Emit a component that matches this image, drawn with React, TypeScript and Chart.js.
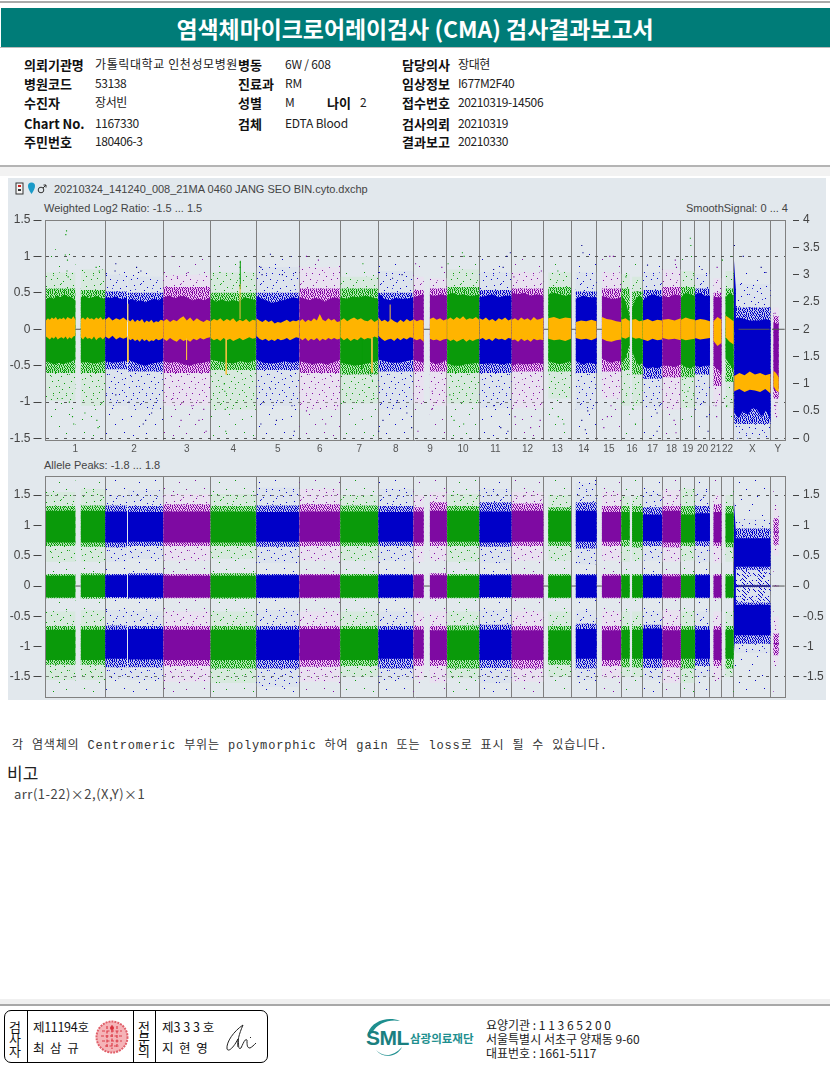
import React, { useEffect, useRef } from "react";
import { Chart, registerables } from "chart.js";

Chart.register(...registerables);

// ---- chromosome layout (Mb) ----
const chromNames = ["1","2","3","4","5","6","7","8","9","10","11","12","13","14","15","16","17","18","19","20","21","22","X","Y"];
const chromLengths = [249.25,243.2,198,191.2,180.9,171.1,159.1,146.4,141.2,135.5,135,133.9,115.2,107.3,102.5,90.4,81.2,78.1,59.1,63,48.1,51.3,155.3,59.4];
const chromHue = ["g","b","p","g","b","p","g","b","p","g","b","p","g","b","p","g","b","p","g","b","p","g","b","p"];

// ---- covered stretches of each chromosome (Mb from chromosome start) ----
const segChrom = [0,0,1,1,2,3,4,5,6,7,8,8,9,10,11,12,13,14,15,15,16,17,18,19,20,21,22,23];
const segStart = [2,148,1,96,1,1,1,1,1,1,1,70,1,1,1,20,20,22,1,46,1,1,1,1,15,17,2,11];
const segEnd = [125,249,92,243,197,190,180,170,158,146,44,141,135,135,133,115,107,102,36,90,81,78,59,63,48,51,154,33];

// ---- Weighted Log2 Ratio: readings along each stretch ----
const cloudTop = [
  [.41,.44,.42,.46,.44,.48,.45,.44,.40],[.44,.46,.43,.44,.46,.43,.42],[.44,.43,.45,.41,.44],[.40,.42,.38,.40,.37,.40,.42,.40,.44],
  [.44,.46,.43,.46,.44,.40,.42,.40,.44],[.42,.38,.41,.38,.40,.38,.44,.42,.40],[.46,.42,.39,.36,.38,.40,.42,.44,.42],[.44,.42,.40,.43,.42,.38,.42,.44,.42],
  [.44,.42,.45,.44,.46,.44,.42],[.50,.42,.40,.43,.42,.42,.44],[.44,.46,.48],[.47,.46,.48,.46],
  [.47,.50,.47,.48,.46,.46,.48],[.44,.46,.48,.44,.46,.46],[.50,.48,.50,.46,.48,.46],[.48,.50,.48,.46,.48],
  [.42,.46,.44,.44],[.46,.44,.42,.42,.44],[.48,.38,.18],[.30,.42,.46,.42],
  [.40,.45,.48,.46,.44],[.46,.44,.48,.46],[.44,.50,.48,.46],[.48,.50,.46,.46],
  [.45,.44,.44],[.44,.50,.46],[.14,.16,.14,.12,.12,.12,.14,.12],[.10,.08,.08],
];
const cloudBottom = [
  [-.44,-.46,-.48,-.46,-.48,-.46,-.45,-.41],[-.46,-.45,-.47,-.46,-.44],[-.44,-.46,-.45,-.43],[-.42,-.45,-.48,-.50,-.47,-.46,-.44],
  [-.44,-.46,-.45,-.48,-.50,-.47,-.46,-.44],[-.42,-.44,-.46,-.47,-.44,-.46,-.42],[-.42,-.46,-.47,-.46,-.44,-.46,-.44],[-.44,-.46,-.48,-.46,-.48,-.46,-.42],
  [-.46,-.48,-.50,-.48,-.46,-.44],[-.42,-.44,-.46,-.46,-.44,-.42],[-.42,-.44,-.46],[-.44,-.48,-.46,-.42],
  [-.47,-.50,-.50,-.48,-.47,-.46],[-.48,-.47,-.47,-.48,-.46],[-.50,-.47,-.48,-.48,-.46,-.48],[-.44,-.46,-.48,-.46,-.44],
  [-.44,-.48,-.46,-.48],[-.40,-.44,-.46,-.44,-.44],[-.46,-.40,-.20],[-.30,-.44,-.50,-.46],
  [-.50,-.54,-.52,-.54,-.50],[-.50,-.50,-.52,-.48],[-.48,-.52,-.54,-.50],[-.50,-.52,-.50,-.50],
  [-.50,-.55,-.60],[-.40,-.48,-.56],[-1.15,-1.22,-1.12,-1.18,-1.08,-1.1,-1.2,-1.12,-1.25],[-.82,-.85,-.80],
];
const smoothTop = [
  [.12,.15,.13,.16,.14,.17,.13,.15,.14,.16,.13,.17,.15,.14,.18,.13],[.14,.16,.13,.17,.14,.15,.13,.16,.14,.17,.13,.15],[.13,.17,.12,.15,.13,.16,.12],[.13,.11,.14,.10,.13,.11,.14,.09,.12,.10,.13,.09,.11,.10,.13,.12],
  [.11,.14,.10,.13,.11,.15,.18,.12,.16,.11,.15,.12,.10,.13,.11],[.11,.14,.12,.15,.11,.14,.12,.15,.10,.13,.11,.14,.10,.13,.12],[.15,.12,.10,.13,.10,.12,.08,.10,.09,.11,.13,.10,.12,.11,.13],[.11,.14,.10,.13,.11,.15,.12,.21,.13,.11,.15,.12,.14,.10,.11],
  [.12,.15,.11,.14,.16,.13,.15,.12,.11,.14,.10,.13],[.16,.11,.13,.10,.14,.11,.09,.13,.10,.14,.11,.13],[.14,.11,.13,.12],[.14,.16,.13,.15,.12,.14],
  [.13,.16,.13,.17,.14,.18,.13,.15,.14,.17,.13],[.15,.13,.16,.12,.14,.11,.15,.13,.16,.12,.14],[.13,.15,.12,.16,.13,.15,.12,.17,.13,.14,.16],[.15,.17,.14,.16,.15],
  [.10,.12,.11,.13,.11],[.17,.14,.13,.11,.10],[.13,.15,.11],[.13,.14,.11,.12],
  [.12,.14,.11,.13,.12],[.13,.14,.12,.15],[.13,.16,.14,.13],[.12,.14,.13,.11],
  [.11,.17,.13],[.19,.15,.11],[-.64,-.60,-.63,-.58,-.62,-.60,-.63,-.61],[-.57,-.60,-.66],
];
const smoothBottom = [
  [-.10,-.12,-.14,-.11,-.13,-.10,-.14,-.12,-.11,-.13,-.10,-.14,-.11,-.13,-.10,-.09],[-.11,-.14,-.10,-.13,-.12,-.14,-.10,-.15,-.12,-.11,-.14,-.11],[-.10,-.13,-.09,-.14,-.11,-.13,-.11],[-.12,-.15,-.13,-.16,-.14,-.17,-.13,-.16,-.14,-.17,-.15,-.16,-.13,-.15,-.14,-.12],
  [-.13,-.16,-.12,-.15,-.17,-.13,-.16,-.14,-.17,-.13,-.15,-.12,-.14,-.12,-.11],[-.12,-.15,-.13,-.16,-.12,-.15,-.13,-.16,-.14,-.12,-.15,-.13,-.11,-.13,-.12],[-.09,-.13,-.15,-.13,-.16,-.14,-.16,-.13,-.15,-.14,-.12,-.15,-.13,-.11,-.12],[-.12,-.15,-.12,-.16,-.13,-.15,-.12,-.16,-.13,-.15,-.12,-.14,-.12,-.14,-.13],
  [-.11,-.15,-.12,-.16,-.13,-.15,-.11,-.14,-.12,-.13,-.10,-.12],[-.09,-.13,-.16,-.14,-.13,-.16,-.12,-.15,-.12,-.14,-.11,-.12],[-.13,-.15,-.13,-.17],[-.13,-.15,-.14,-.16,-.14,-.13],
  [-.13,-.16,-.14,-.17,-.15,-.13,-.17,-.14,-.16,-.14,-.13],[-.14,-.12,-.15,-.13,-.16,-.12,-.14,-.13,-.15,-.12,-.13],[-.15,-.14,-.17,-.13,-.16,-.14,-.17,-.13,-.15,-.14,-.15],[-.13,-.15,-.14,-.16,-.13],
  [-.12,-.14,-.13,-.15,-.12],[-.13,-.16,-.17,-.15,-.14],[-.11,-.13,-.10],[-.11,-.13,-.12,-.14],
  [-.14,-.16,-.13,-.15,-.14],[-.12,-.14,-.13,-.15],[-.13,-.15,-.14,-.13],[-.12,-.14,-.13,-.12],
  [-.16,-.23,-.19],[-.11,-.17,-.21],[-.85,-.82,-.86,-.83,-.84,-.86,-.82,-.88],[-.78,-.84,-.86],
];
const logDenseTop = [.56,.54,.52,.50,.58,.50,.50,.56,.56,.50,.54,.56,.58,.54,.56,.58,.52,.56,.56,.52,.54,.58,.58,.56,.50,.56,.30,.18];
const logDenseBottom = [-.60,-.60,-.55,-.58,-.60,-.56,-.56,-.60,-.62,-.58,-.58,-.58,-.60,-.60,-.58,-.58,-.60,-.58,-.56,-.62,-.68,-.66,-.66,-.62,-.78,-.72,-1.3,-.95];
const logSparseTop = [.78,.82,.75,.72,.75,.78,.85,.85,.72,.80,.72,.70,.82,.78,.78,.78,.78,.78,.76,.72,.78,.82,.80,.76,.70,.80,.62,.30];
const logSparseBottom = [-.98,-1.05,-1.05,-1.10,-1.05,-1.10,-1.05,-1.10,-1.02,-1.10,-1.02,-1.05,-1.02,-1.08,-1.08,-.95,-1.10,-.95,-1.05,-1.05,-1.08,-1.10,-1.08,-1.05,-1.05,-1.08,-1.5,-1.2];
const logRareTop = [1.1,.95,.85,.82,1.0,.95,1.0,.95,.85,.95,.95,.85,1.0,.98,.98,.95,1.05,.98,.9,.9,.98,1.0,1.1,.98,.75,1.0,.85,.45];
const logRareBottom = [-1.45,-1.5,-1.5,-1.5,-1.5,-1.5,-1.5,-1.5,-1.5,-1.5,-1.3,-1.5,-1.5,-1.5,-1.5,-1.5,-1.5,-1.4,-1.5,-1.5,-1.5,-1.5,-1.4,-1.4,-1.2,-1.4,-1.5,-1.3];
const xParLogTop = [.95,.55];
const xParLogBottom = [0,-.1];

// ---- Weighted Log2 Ratio: thin vertical spikes [chromosome index, Mb, from, to] ----
const smoothSpikes = [[3,124,.14,.62],[3,66,-.13,-.62],[2,98,-.13,-.42],[7,50,.12,.34],[6,133,-.12,-.6],[1,96,.1,.35],[1,96,-.1,-.45]];
const greenSpikes = [[3,125,.55,.94],[3,82,.12,.32],[6,90,-.15,-.55]];

// ---- Weighted Log2 Ratio: single visible outliers [chromosome index, Mb, value] ----
const logOutlierGreen = [[0,88,1.35],[0,85,1.3],[0,83,1.02],[0,92,.95],[0,90,.8],[0,95,.72],[0,212,.85],[0,225,.8],[0,70,-.95],[0,100,-1.0],[0,113,-1.2],[0,118,-1.3],[0,165,-1.15],[0,220,-1.35],[0,215,-1.25],
  [3,125,.92],[3,124,.85],[3,123,.7],[3,122,.6],[3,40,.78],[3,60,-.85],[3,62,-1.1],[3,64,-1.4],[3,58,-.75],[6,95,.9],[6,120,-.8],[6,133,-.6],[6,135,-.7],[6,140,-.95],
  [9,65,1.05],[9,72,1.0],[9,5,.9],[9,30,-1.25],[9,70,-1.3],[9,12,-.9],[12,60,.8],[12,62,-1.2],[12,85,-1.3],[15,20,.72],[15,50,-1.1],[15,60,-1.3],[18,40,1.25],[18,42,1.15],[18,30,-.85],[21,4,.95],[21,12,-.95],[21,22,-1.05]];
const logOutlierBlue = [[1,45,.9],[1,42,.8],[1,132,.85],[1,140,.78],[1,150,.8],[1,45,-.9],[1,100,-1.0],[1,160,-1.3],[1,170,-1.25],[1,195,-1.15],[1,215,-.95],
  [4,60,1.03],[4,20,.85],[4,25,.75],[4,110,.75],[4,165,.78],[4,60,-.82],[4,20,-1.3],[4,85,-1.25],[4,150,-1.05],[4,160,-1.4],[7,2,.78],[7,60,.7],[7,100,.75],[7,2,-1.4],[7,20,-1.25],[7,80,-.98],[7,120,-1.15],[7,140,-1.35],
  [10,60,.82],[10,100,.85],[10,115,1.0],[10,130,1.05],[10,60,-1.05],[10,90,-1.35],[10,120,-1.4],[13,45,1.15],[13,50,1.05],[13,45,-1.25],[13,60,-1.38],[13,70,-1.12],[16,20,.88],[16,60,-1.15],[16,60,-1.4],[16,70,-1.05],[19,30,.82],[19,50,-1.2],[19,55,-1.4],[22,3,1.15],[22,40,1.0],[22,135,.78],[22,115,.85]];
const logOutlierPurple = [[2,105,.78],[2,60,.72],[2,40,-.95],[2,75,-1.25],[2,120,-1.05],[2,150,-1.25],[2,170,-1.1],[2,180,-1.4],[5,30,1.0],[5,80,.95],[5,30,-1.12],[5,160,-1.05],[5,110,-1.3],
  [8,10,.9],[8,120,.85],[8,80,-.85],[8,78,-1.1],[8,20,-1.4],[11,10,.72],[11,125,.8],[11,15,-1.2],[11,80,-1.35],[11,120,-1.25],[14,55,1.0],[14,70,1.0],[14,60,-1.05],[14,45,-1.2],[14,30,-1.35],[17,55,.95],[17,60,.85],[17,50,-1.25],[17,58,-1.42],[20,30,.85],[20,25,-1.05],[20,28,-1.2],[23,18,.22],[23,20,-1.05],[23,24,-1.2]];

// ---- Allele Peaks: band edges of each stretch ----
const upperOuter = [1.24,1.24,1.23,1.22,1.23,1.23,1.22,1.23,1.23,1.22,1.23,1.24,1.24,1.23,1.24,1.24,1.24,1.22,1.22,1.22,1.18,1.24,1.18,1.2,1.22,1.2,.79,.9];
const upperInner = [.72,.72,.72,.73,.72,.72,.73,.73,.72,.73,.72,.73,.73,.72,.73,.73,.73,.73,.76,.73,.74,.72,.72,.74,.72,.72,.32,.88];
const upperDenseOuter = [1.32,1.33,1.33,1.32,1.35,1.32,1.33,1.35,1.33,1.32,1.30,1.38,1.32,1.38,1.36,1.3,1.38,1.32,1.32,1.32,1.3,1.32,1.32,1.32,1.35,1.32,.95,1.12];
const upperDenseInner = [.66,.65,.64,.66,.66,.66,.65,.66,.66,.66,.66,.66,.66,.65,.66,.66,.62,.66,.66,.64,.66,.64,.66,.66,.66,.64,.27,.68];
const upperSparseOuter = [1.55,1.6,1.5,1.58,1.52,1.52,1.62,1.6,1.5,1.6,1.5,1.55,1.52,1.6,1.55,1.5,1.7,1.55,1.48,1.48,1.55,1.58,1.6,1.58,1.5,1.5,1.1,1.3];
const upperSparseInner = [.4,.4,.4,.45,.42,.45,.38,.42,.42,.42,.4,.42,.4,.38,.42,.42,.36,.42,.4,.42,.42,.4,.42,.4,.38,.4,.15,.5];
const midTop = [.17,.18,.18,.18,.17,.17,.18,.18,.17,.18,.18,.18,.17,.18,.18,.17,.18,.17,.17,.17,.17,.16,.17,.18,.17,.16,.015,.003];
const midBottom = [-.19,-.18,-.18,-.19,-.19,-.19,-.19,-.19,-.19,-.19,-.19,-.19,-.19,-.18,-.19,-.19,-.19,-.19,-.19,-.19,-.19,-.19,-.19,-.19,-.19,-.19,-.015,-.003];
const midDenseHalf = [.2,.21,.2,.21,.2,.21,.2,.2,.2,.2,.2,.21,.2,.2,.2,.2,.2,.2,.2,.2,.2,.2,.2,.2,.2,.2,.02,.004];
const xMidSpeckle = [.27,-.27];
const lowerInner = [-.72,-.72,-.72,-.71,-.72,-.72,-.72,-.71,-.71,-.72,-.72,-.73,-.73,-.72,-.73,-.73,-.71,-.73,-.72,-.72,-.70,-.73,-.72,-.72,-.72,-.72,-.31,-.94];
const lowerOuter = [-1.22,-1.22,-1.2,-1.21,-1.22,-1.22,-1.22,-1.22,-1.22,-1.2,-1.2,-1.22,-1.22,-1.22,-1.22,-1.22,-1.2,-1.22,-1.2,-1.2,-1.2,-1.22,-1.2,-1.2,-1.22,-1.2,-.81,-.96];
const lowerDenseInner = [-.66,-.66,-.65,-.66,-.66,-.66,-.66,-.66,-.66,-.66,-.66,-.66,-.65,-.64,-.66,-.66,-.62,-.66,-.66,-.66,-.64,-.66,-.66,-.66,-.66,-.66,-.27,-.78];
const lowerDenseOuter = [-1.3,-1.3,-1.34,-1.34,-1.32,-1.36,-1.36,-1.33,-1.32,-1.36,-1.32,-1.32,-1.36,-1.35,-1.36,-1.3,-1.36,-1.32,-1.34,-1.34,-1.35,-1.34,-1.36,-1.32,-1.32,-1.36,-.95,-1.14];
const lowerSparseInner = [-.42,-.4,-.4,-.42,-.42,-.42,-.4,-.42,-.42,-.42,-.42,-.42,-.42,-.4,-.42,-.42,-.4,-.42,-.42,-.42,-.42,-.4,-.42,-.42,-.42,-.42,-.15,-.5];
const lowerSparseOuter = [-1.55,-1.55,-1.52,-1.55,-1.58,-1.6,-1.66,-1.58,-1.5,-1.55,-1.55,-1.6,-1.52,-1.6,-1.58,-1.5,-1.55,-1.52,-1.5,-1.5,-1.55,-1.6,-1.6,-1.5,-1.55,-1.5,-1.1,-1.3];
const xParPeakTop = [1.4,.9];
const xParPeakBottom = [-1.1,-.6];

// ---- short dark marks at the centre level in uncovered gaps: [chromosome index, from Mb, to Mb] ----
const gapMarks = [[0,125,148],[8,44,70],[12,1,20],[13,1,20],[14,1,22],[22,20,150],[23,5,58]];

// ---- axis labels ----
const logTicks = [-1.5,-1,-.5,0,.5,1,1.5];
const signalTicks = [0,.5,1,1.5,2,2.5,3,3.5,4];
const peakTicks = [-1.5,-1,-.5,0,.5,1,1.5];

const hues: any = { g: "#0a9a0a", b: "#0000c8", p: "#7e0aa2" };
const haloDense: any = { g: "rgba(140,225,140,.55)", b: "rgba(170,175,235,.55)", p: "rgba(240,180,240,.75)" };
const haloSparse: any = { g: "rgba(190,235,190,.3)", b: "rgba(205,210,240,.25)", p: "rgba(245,215,245,.4)" };

const denseRows = [
  "#.#..#.##.#.#..#",".#.#.#..#.#.#.#.","#..#..#.#..#..#.",".#.#.#.#..#.#..#",
  "#.#...#.#.#..#.#","..#.#.#..#.#.#..","#.#.#..#.#..#.#.",".#..#.#.#.#.#..#",
  "#.#.#..#...#.#.#",".#.#.#.#.#.#..#.","#..#.#..#.#.#.#.",".#.#..#.#..#.#.#",
  "#.#.#.#..#.#..#.",".#..#.#.#.#.#.#.","#.#.#..#.#..#.#.","..#.#.#.#.#.#..#",
];
const sparseDots = [[2,3],[7,1],[13,4],[19,2],[26,5],[33,1],[37,6],[4,9],[10,8],[16,11],[23,9],[30,10],[36,12],[1,15],[8,14],[14,17],[21,15],[27,16],[34,18],[5,21],[11,20],[18,23],[24,21],[31,22],[38,24],[3,27],[9,26],[15,29],[22,27],[28,30],[35,28],[6,33],[12,32],[19,35],[25,33],[32,36],[38,34],[2,38],[16,38],[29,39]];
const rareDots = [[3,4],[21,2],[34,7],[11,14],[27,12],[5,23],[18,21],[36,20],[13,31],[29,28],[7,37],[24,36]];

function makeTile(hue: string, kind: string) {
  const c = document.createElement("canvas");
  const size = kind === "dense" || kind === "medium" ? 16 : 40;
  c.width = size;
  c.height = size;
  const g = c.getContext("2d")!;
  if (kind === "dense") { g.fillStyle = haloDense[hue]; g.fillRect(0, 0, size, size); }
  if (kind === "sparse" || kind === "medium") { g.fillStyle = haloSparse[hue]; g.fillRect(0, 0, size, size); }
  g.fillStyle = hues[hue];
  if (kind === "dense") denseRows.forEach((r, y) => r.split("").forEach((ch, x) => { if (ch === "#") g.fillRect(x, y, 1, 1); }));
  if (kind === "medium") denseRows.forEach((r, y) => r.split("").forEach((ch, x) => { if (ch === "#" && (x * 3 + y * 5) % 4 === 0) g.fillRect(x, y, 1, 1); }));
  if (kind === "sparse") sparseDots.forEach(([x, y]) => g.fillRect(x, y, 1, 1));
  if (kind === "rare") rareDots.forEach(([x, y]) => g.fillRect(x, y, 1, 1));
  return g.createPattern(c, "repeat")!;
}

const chromOffset = chromLengths.map((_, i) => chromLengths.slice(0, i).reduce((a, b) => a + b, 0));
const genomeEnd = chromLengths.reduce((a, b) => a + b, 0);
const boundaries = [...chromOffset, genomeEnd];
const centres = chromOffset.map((o, i) => o + chromLengths[i] / 2);

function polygon(x0: number, x1: number, top: number[], bottom: number[], fill: any) {
  const at = (arr: number[], i: number) => x0 + (arr.length > 1 ? (i * (x1 - x0)) / (arr.length - 1) : 0);
  const t = top.map((v, i) => ({ x: at(top, i), y: v }));
  const b = bottom.map((v, i) => ({ x: at(bottom, i), y: v })).reverse();
  return { data: [...t, ...b, t[0]], showLine: true, fill: "shape", backgroundColor: fill, borderWidth: 0, borderColor: "transparent", pointRadius: 0, tension: 0, xAxisID: "x", yAxisID: "y" };
}
const rect = (seg: number, hi: number, lo: number, fill: any) => {
  const o = chromOffset[segChrom[seg]];
  return polygon(o + segStart[seg], o + segEnd[seg], [hi, hi], [lo, lo], fill);
};
const dots = (list: number[][], colour: string) => ({
  data: list.map(([c, mb, v]) => ({ x: chromOffset[c] + mb, y: v })),
  backgroundColor: colour, borderWidth: 0, pointStyle: "rect", pointRadius: 0.8, xAxisID: "x", yAxisID: "y",
});
const gapLines = () => gapMarks.map(([c, a, b]) => ({
  data: [{ x: chromOffset[c] + a, y: 0 }, { x: chromOffset[c] + b, y: 0 }],
  showLine: true, borderColor: "#555", borderWidth: 1, pointRadius: 0, xAxisID: "x", yAxisID: "y",
}));
const spikes = (list: number[][], colour: string) => list.map(([c, mb, a, b]) => ({
  data: [{ x: chromOffset[c] + mb, y: a }, { x: chromOffset[c] + mb, y: b }],
  showLine: true, borderColor: colour, borderWidth: 1, pointRadius: 0, xAxisID: "x", yAxisID: "y",
}));

function baseOptions(yMin: number, yMax: number, yTicks: number[], dashedAt: number[], rMin: number, rMax: number, rTicks: number[], showLabels: boolean, pad: any): any {
  const noPad = (s: any) => { s.paddingTop = 0; s.paddingBottom = 0; s.paddingLeft = 0; s.paddingRight = 0; };
  return {
    responsive: false, maintainAspectRatio: false, animation: false, devicePixelRatio: 1, events: [],
    layout: { padding: pad },
    plugins: { legend: { display: false }, tooltip: { enabled: false }, title: { display: false } },
    scales: {
      x: {
        type: "linear", position: "bottom", min: 0, max: genomeEnd,
        afterBuildTicks: (s: any) => { s.ticks = centres.map((v) => ({ value: v })); },
        afterFit: (s: any) => { s.height = showLabels ? 18 : 3; noPad(s); },
        grid: { display: false, drawTicks: false, tickLength: 0 },
        border: { display: true, color: "#808080", width: 1 },
        ticks: {
          display: showLabels, autoSkip: false, maxRotation: 0, padding: 3, color: "#555",
          font: { family: "Liberation Sans", size: 10 },
          callback: (v: number) => chromNames[centres.findIndex((c) => Math.abs(c - v) < 1e-6)],
        },
      },
      xb: {
        type: "linear", position: "top", min: 0, max: genomeEnd,
        afterBuildTicks: (s: any) => { s.ticks = boundaries.map((v) => ({ value: v })); },
        afterFit: (s: any) => { s.height = 0; noPad(s); },
        grid: { color: "#7f7f7f", lineWidth: 1, drawTicks: false },
        border: { display: true, color: "#808080" },
        ticks: { display: false },
      },
      y: {
        position: "left", min: yMin, max: yMax,
        afterBuildTicks: (s: any) => { s.ticks = yTicks.map((v) => ({ value: v })); },
        afterFit: (s: any) => { s.width = 37.5; noPad(s); },
        border: { display: true, color: "#808080", dash: [3, 6] },
        grid: {
          color: (c: any) => (c.tick && dashedAt.includes(c.tick.value) ? "#555" : "transparent"),
          tickColor: "#444", tickLength: 12, tickBorderDash: [8, 20], lineWidth: 1, tickWidth: 1,
        },
        ticks: { padding: 3, color: "#444", autoSkip: false, font: { family: "Liberation Sans", size: 12 }, callback: (v: number) => String(v) },
      },
      y2: {
        position: "right", min: rMin, max: rMax,
        afterBuildTicks: (s: any) => { s.ticks = rTicks.map((v) => ({ value: v })); },
        afterFit: (s: any) => { s.width = 41; noPad(s); },
        border: { display: true, color: "#808080" },
        grid: { drawOnChartArea: false, tickColor: "#444", tickLength: 14, tickBorderDash: [0, 7, 7, 20] },
        ticks: { padding: 4, color: "#444", autoSkip: false, font: { family: "Liberation Sans", size: 12 }, callback: (v: number) => String(v) },
      },
    },
  };
}

function logDatasets() {
  const out: any[] = [];
  const tile = (c: number, k: string) => makeTile(chromHue[c], k);
  segChrom.forEach((c, i) => out.push(rect(i, logRareTop[i], logRareBottom[i], tile(c, "rare"))));
  segChrom.forEach((c, i) => out.push(rect(i, logSparseTop[i], logSparseBottom[i], tile(c, "sparse"))));
  segChrom.forEach((c, i) => out.push(rect(i, logDenseTop[i], logDenseBottom[i], tile(c, "dense"))));
  out.push(polygon(chromOffset[22] + 1, chromOffset[22] + 9, xParLogTop, xParLogBottom, hues.b));
  segChrom.forEach((c, i) => {
    const o = chromOffset[c];
    out.push(polygon(o + segStart[i], o + segEnd[i], cloudTop[i], cloudBottom[i], hues[chromHue[c]]));
  });
  segChrom.forEach((c, i) => {
    const o = chromOffset[c];
    out.push(polygon(o + segStart[i], o + segEnd[i], smoothTop[i], smoothBottom[i], "#ffb400"));
  });
  out.push(...gapLines());
  out.push(...spikes(greenSpikes, hues.g), ...spikes(smoothSpikes, "#f5c040"));
  out.push(dots(logOutlierGreen, hues.g), dots(logOutlierBlue, "#00008c"), dots(logOutlierPurple, hues.p));
  return out.reverse(); // the library paints the first dataset last
}

function peakDatasets() {
  const out: any[] = [];
  const tile = (c: number, k: string) => makeTile(chromHue[c], k);
  segChrom.forEach((c, i) => out.push(rect(i, 1.8, -1.8, tile(c, "rare"))));
  segChrom.forEach((c, i) => {
    out.push(rect(i, upperSparseOuter[i], upperSparseInner[i], tile(c, "sparse")));
    out.push(rect(i, lowerSparseInner[i], lowerSparseOuter[i], tile(c, "sparse")));
  });
  out.push(rect(26, xMidSpeckle[0], xMidSpeckle[1], tile(22, "medium")));
  segChrom.forEach((c, i) => {
    out.push(rect(i, upperDenseOuter[i], upperDenseInner[i], tile(c, "dense")));
    out.push(rect(i, midDenseHalf[i], -midDenseHalf[i], tile(c, "dense")));
    out.push(rect(i, lowerDenseInner[i], lowerDenseOuter[i], tile(c, "dense")));
  });
  out.push(polygon(chromOffset[22] + 1, chromOffset[22] + 9, xParPeakTop, xParPeakBottom, hues.b));
  segChrom.forEach((c, i) => {
    const h = hues[chromHue[c]];
    out.push(rect(i, upperOuter[i], upperInner[i], h));
    out.push(rect(i, midTop[i], midBottom[i], h));
    out.push(rect(i, lowerInner[i], lowerOuter[i], h));
  });
  out.push(...gapLines());
  return out.reverse();
}

const kr = "'Noto Sans CJK KR', 'Liberation Sans', sans-serif";
function T({ x, y, s = 12, b = false, c = "#222", f = kr, ls = 0, right, children }: any) {
  const style: any = { position: "absolute", top: y, transform: "translateY(-50%)", fontSize: s, fontWeight: b ? 700 : 400, color: c, fontFamily: f, letterSpacing: ls, whiteSpace: "pre", lineHeight: 1 };
  if (right !== undefined) style.right = right; else style.left = x;
  return <div style={style}>{children}</div>;
}

const rows = [64, 83, 102, 123, 141];

export default function App() {
  const a = useRef<HTMLCanvasElement>(null);
  const b = useRef<HTMLCanvasElement>(null);
  useEffect(() => {
    const top = new Chart(a.current!, {
      type: "scatter",
      data: { datasets: logDatasets() },
      options: baseOptions(-1.52, 1.5, logTicks, [1, -1, 1.5, -1.5], -0.028, 4, signalTicks, true, { top: 8, bottom: 0, left: 0, right: 0 }),
    } as any);
    const bottom = new Chart(b.current!, {
      type: "scatter",
      data: { datasets: peakDatasets() },
      options: baseOptions(-1.83, 1.815, peakTicks, [1.5, -1.5], -1.83, 1.815, peakTicks, false, { top: 8, bottom: 0, left: 0, right: 0 }),
    } as any);
    return () => { top.destroy(); bottom.destroy(); };
  }, []);
  const sans = "'Liberation Sans', sans-serif";
  return (
    <div style={{ position: "absolute", left: 0, top: 0, width: 830, height: 1074, background: "#fff", overflow: "hidden" }}>
      <div style={{ position: "absolute", left: 0, top: 1, width: 830, height: 2, background: "#aaa" }} />
      <div style={{ position: "absolute", left: 1, top: 8, width: 829, height: 39, background: "#007c78" }} />
      <div style={{ position: "absolute", left: 0, top: 47, width: 830, height: 1, background: "#bbb" }} />
      <div style={{ position: "absolute", left: 0, top: 8, width: 830, height: 39, display: "flex", alignItems: "center", justifyContent: "center", color: "#fff", fontFamily: kr, fontWeight: 700, fontSize: 22.9 }}>
        염색체마이크로어레이검사 (CMA) 검사결과보고서
      </div>
      {["의뢰기관명", "병원코드", "수진자", "Chart No.", "주민번호"].map((t, i) => <T key={t} x={24} y={rows[i]} s={13} b c="#111">{t}</T>)}
      {["가톨릭대학교 인천성모병원", "53138", "장서빈", "1167330", "180406-3"].map((t, i) => <T key={t} x={95} y={rows[i]} ls={i === 0 ? 0.6 : -0.4}>{t}</T>)}
      {["병동", "진료과", "성별", "검체"].map((t, i) => <T key={t} x={238} y={rows[i]} s={13} b c="#111">{t}</T>)}
      {["6W / 608", "RM", "M", "EDTA Blood"].map((t, i) => <T key={t} x={285} y={rows[i]} ls={-0.2}>{t}</T>)}
      <T x={327} y={rows[2]} s={13} b c="#111">나이</T>
      <T x={360} y={rows[2]}>2</T>
      {["담당의사", "임상정보", "접수번호", "검사의뢰", "결과보고"].map((t, i) => <T key={t} x={402} y={rows[i]} s={13} b c="#111">{t}</T>)}
      {["장대현", "I677M2F40", "20210319-14506", "20210319", "20210330"].map((t, i) => <T key={t} x={458} y={rows[i]} ls={-0.4}>{t}</T>)}
      <div style={{ position: "absolute", left: 0, top: 165, width: 830, height: 1.5, background: "#b4b4b4" }} />
      <div style={{ position: "absolute", left: 0, top: 167, width: 830, height: 9, background: "#f2f2f2" }} />

      <div style={{ position: "absolute", left: 8, top: 178, width: 818, height: 522, background: "#e2e8ed" }} />
      <svg style={{ position: "absolute", left: 14, top: 181 }} width="36" height="15" viewBox="0 0 36 15">
        <rect x="2" y="2" width="7" height="11" fill="#f4f4f4" stroke="#333" />
        <rect x="4" y="4" width="3" height="2" fill="#c22" /><rect x="4" y="8" width="3" height="2" fill="#333" />
        <path d="M14 5 a3.5 3.5 0 1 1 7 0 q0 3 -3.5 8 q-3.500 -5 -3.500 -8 z" fill="#1a9ac8" />
        <circle cx="27" cy="9" r="2.800" fill="none" stroke="#333" /><path d="M29 7 l3 -3 m-2.500 0 h2.500 v2.500" fill="none" stroke="#333" />
      </svg>
      <T x={54} y={189} s={11} c="#444" f={sans}>20210324_141240_008_21MA 0460 JANG SEO BIN.cyto.dxchp</T>
      <T x={44} y={208} s={11} c="#444" f={sans}>Weighted Log2 Ratio: -1.5 ... 1.5</T>
      <T right={42} y={208} s={11} c="#444" f={sans}>SmoothSignal: 0 ... 4</T>
      <canvas ref={a} width={818} height={246} style={{ position: "absolute", left: 8, top: 212, width: 818, height: 246 }} />
      <T x={44} y={465} s={11} c="#444" f={sans}>Allele Peaks: -1.8 ... 1.8</T>
      <canvas ref={b} width={818} height={232} style={{ position: "absolute", left: 8, top: 468, width: 818, height: 232 }} />

      <T x={12} y={746} s={12} c="#333" f="'Liberation Mono', 'Noto Sans CJK KR', monospace" ls={0.85}>각 염색체의 Centromeric 부위는 polymorphic 하여 gain 또는 loss로 표시 될 수 있습니다.</T>
      <T x={7} y={772} s={17} c="#222">비고</T>
      <T x={14} y={793} s={13} c="#444" ls={0.5}>arr(1-22)×2,(X,Y)×1</T>

      <div style={{ position: "absolute", left: 0, top: 999, width: 830, height: 5, background: "#f0f0f0" }} />
      <div style={{ position: "absolute", left: 0, top: 1004, width: 830, height: 2, background: "#a8a8a8" }} />
      <div style={{ position: "absolute", left: 4, top: 1010, width: 264, height: 53, border: "1px solid #000", borderRadius: 7, boxSizing: "border-box" }} />
      {[27, 133, 155].map((x) => <div key={x} style={{ position: "absolute", left: x, top: 1010, width: 1, height: 53, background: "#000" }} />)}
      {["검", "사", "자"].map((t, i) => <T key={t} x={9} y={1026 + i * 12} s={13} c="#111">{t}</T>)}
      {["전", "문", "의"].map((t, i) => <T key={t} x={138} y={1026 + i * 12} s={13} c="#111">{t}</T>)}
      <T x={33} y={1027} s={12.5} c="#111" ls={-0.3}>제11194호</T>
      <T x={33} y={1048} s={12.5} c="#111">최  삼  규</T>
      <T x={162} y={1027} s={12.5} c="#111">제3 3 3 호</T>
      <T x={162} y={1048} s={12.5} c="#111">지  현  영</T>
      <svg style={{ position: "absolute", left: 95, top: 1020 }} width="34" height="34" viewBox="0 0 34 34">
        <circle cx="17" cy="17" r="15.500" fill="#f5b4b8" stroke="#e0606a" strokeWidth="2" strokeDasharray="2 1" />
        <path d="M7 11h20M6 16h22M7 21h20M10 26h14M12 6v22M17 5v24M22 6v22" stroke="#dc3c48" strokeWidth="1.200" strokeDasharray="3 1.500" fill="none" />
        <circle cx="17" cy="8" r="2" fill="#d8303c" />
      </svg>
      <svg style={{ position: "absolute", left: 224, top: 1022 }} width="36" height="32" viewBox="0 0 36 32">
        <path d="M19 3 C10 9 2 20 3 27 C5 31 11 23 14 17 C15 24 14 28 17 26 C19 22 21 16 23 18 C23 23 23 26 26 26 C28 25 30 23 32 21 M19 3 C15 12 13 20 14 25 M26 15 l1 1" fill="none" stroke="#222" strokeWidth="1" />
      </svg>
      <svg style={{ position: "absolute", left: 364, top: 1014 }} width="46" height="46" viewBox="0 0 46 46">
        <path d="M4 19 C8 7 24 2 36 7 C26 5 14 8 8 19 z" fill="#1e8f8f" />
        <path d="M12 36 C20 44 30 42 38 33 C34 42 20 46 12 36 z" fill="#1e8f8f" />
      </svg>
      <T x={366} y={1037} s={21} b c="#1a8080" f={sans} ls={-0.5}>SML</T>
      <T x={410} y={1039} s={11.5} b c="#1e8f8f">삼광의료재단</T>
      <T x={486} y={1025} s={12} c="#222">요양기관 : 1 1 3 6 5 2 0 0</T>
      <T x={486} y={1039} s={12} c="#222">서울특별시 서초구 양재동 9-60</T>
      <T x={486} y={1053} s={12} c="#222">대표번호 : 1661-5117</T>
    </div>
  );
}
